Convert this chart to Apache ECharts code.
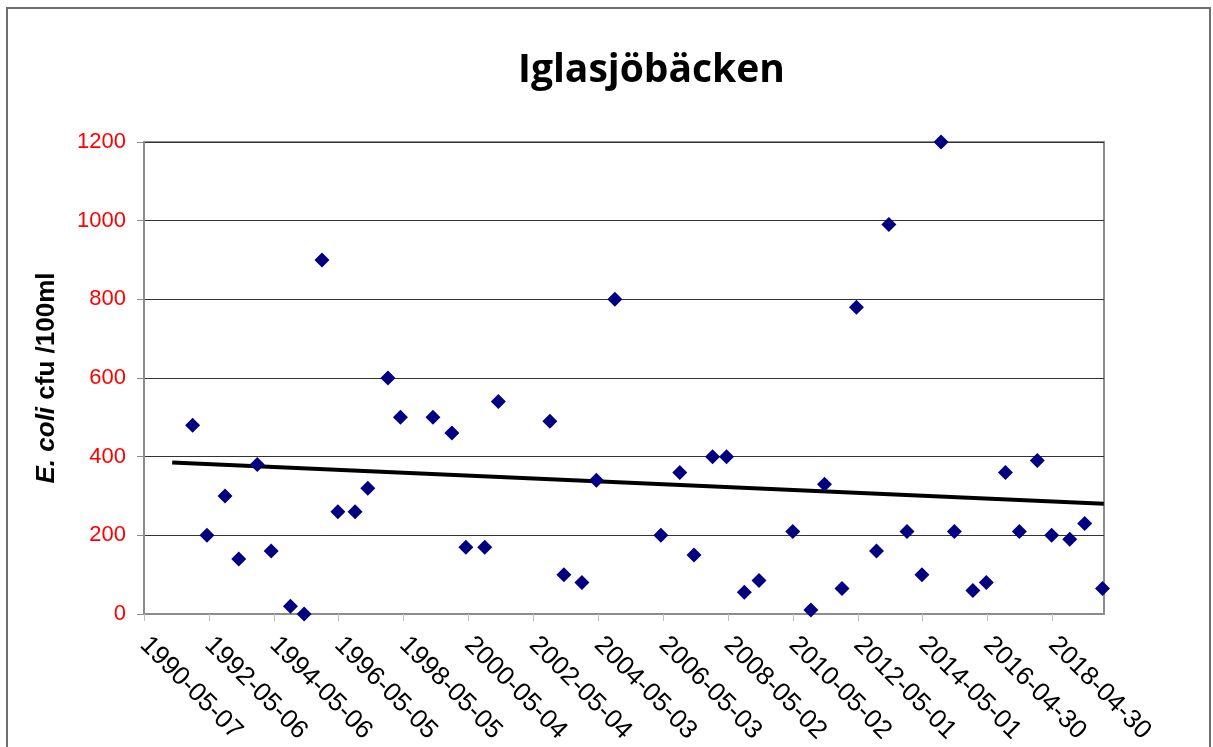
<!DOCTYPE html>
<html>
<head>
<meta charset="utf-8">
<script src="https://cdn.jsdelivr.net/npm/echarts@6/dist/echarts.min.js"></script>
<style>
html,body{margin:0;padding:0;background:#fff;}
#chart{width:1213px;height:747px;}
</style>
</head>
<body>
<div id="chart"></div>
<script>
// ---- data ----
const sampleDates = [
  '1991-11-05','1992-04-14','1992-11-03','1993-04-07','1993-11-01','1994-04-07','1994-11-09','1995-04-12',
  '1995-10-30','1996-04-26','1996-11-05','1997-03-29','1997-11-10','1998-03-31','1999-03-31','1999-10-30',
  '2000-04-05','2000-11-03','2001-04-05','2002-11-06','2003-04-12','2003-11-01','2004-04-12','2004-11-06',
  '2006-04-07','2006-11-06','2007-04-15','2007-11-10','2008-04-15','2008-11-01','2009-04-15','2010-04-30',
  '2010-11-20','2011-04-22','2011-11-05','2012-04-15','2012-11-27','2013-04-15','2013-11-05','2014-04-22',
  '2014-11-23','2015-04-22','2015-11-16','2016-04-15','2016-11-16','2017-04-22','2017-11-10','2018-04-20',
  '2018-11-10','2019-04-27','2019-11-13'
];
const ecoliValues = [
  480,200,300,140,380,160,20,0,
  900,260,260,320,600,500,500,460,
  170,170,540,490,100,80,340,800,
  200,360,150,400,400,55,85,210,
  10,330,65,780,160,990,210,100,
  1200,210,60,80,360,210,390,200,
  190,230,65
];
const trendDates = ['1991-03-20','2019-11-28'];
const trendValues = [385, 280];
const axisStartDate = '1990-05-07';
const axisEndDate = '2019-11-30';
const tickStepDays = 730;
const yTicks = [0, 200, 400, 600, 800, 1000, 1200];
const chartTitle = 'Iglasjöbäcken';

// ---- helpers ----
function toUTC(s){ const p = s.split('-').map(Number); return Date.UTC(p[0], p[1]-1, p[2]); }
const base = toUTC(axisStartDate);
function dayNum(s){ return Math.round((toUTC(s) - base) / 86400000); }
function dayToStr(v){ return new Date(base + v * 86400000).toISOString().slice(0, 10); }

const scatterData = sampleDates.map((d, i) => [dayNum(d), ecoliValues[i]]);
const trendData = trendDates.map((d, i) => [dayNum(d), trendValues[i]]);

const chart = echarts.init(document.getElementById('chart'));
chart.setOption({
  animation: false,
  backgroundColor: '#fff',
  title: {
    text: chartTitle,
    left: 513,
    top: 46,
    textStyle: { fontFamily: 'Open Sans', fontWeight: 'bold', fontSize: 39, color: '#000' }
  },
  graphic: [{
    type: 'rect',
    shape: { x: 7, y: 8, width: 1203, height: 800 },
    style: { fill: 'none', stroke: '#6e6e6e', lineWidth: 2 },
    silent: true
  }],
  grid: {
    left: 144, right: 109, top: 142, bottom: 133,
    show: true, borderColor: '#8c8c8c', borderWidth: 2, backgroundColor: 'transparent'
  },
  xAxis: {
    type: 'value',
    min: 0,
    max: dayNum(axisEndDate),
    interval: tickStepDays,
    axisLine: { show: true, lineStyle: { color: '#8c8c8c', width: 2 } },
    axisTick: { show: true, length: 7, lineStyle: { color: '#bdbdbd', width: 1 } },
    splitLine: { show: false },
    axisLabel: {
      rotate: -45,
      margin: 27,
      fontFamily: 'Liberation Sans',
      fontSize: 26,
      color: '#000',
      showMaxLabel: false,
      formatter: v => (v % tickStepDays === 0 ? dayToStr(v) : '')
    }
  },
  yAxis: {
    type: 'value',
    min: yTicks[0],
    max: yTicks[yTicks.length - 1],
    interval: yTicks[1] - yTicks[0],
    name: '{i|E. coli} cfu /100ml',
    nameLocation: 'middle',
    nameGap: 84,
    nameTextStyle: {
      fontFamily: 'Liberation Sans', fontWeight: 'bold', fontSize: 26, color: '#000',
      rich: { i: { fontFamily: 'Liberation Sans', fontWeight: 'bold', fontStyle: 'italic', fontSize: 26, color: '#000' } }
    },
    axisLine: { show: true, lineStyle: { color: '#8c8c8c', width: 2 } },
    axisTick: { show: true, length: 7, lineStyle: { color: '#8c8c8c', width: 1 } },
    splitLine: { show: true, lineStyle: { color: '#333', width: 1 } },
    axisLabel: {
      margin: 18,
      fontFamily: 'Liberation Sans',
      fontSize: 22,
      color: '#ff0000',
      formatter: v => String(v)
    }
  },
  series: [
    {
      type: 'line',
      data: trendData,
      symbol: 'none',
      lineStyle: { color: '#000', width: 4 },
      z: 2,
      silent: true
    },
    {
      type: 'scatter',
      data: scatterData,
      symbol: 'diamond',
      symbolSize: 15,
      itemStyle: { color: '#000080', opacity: 1 },
      z: 3
    }
  ]
});
</script>
</body>
</html>
